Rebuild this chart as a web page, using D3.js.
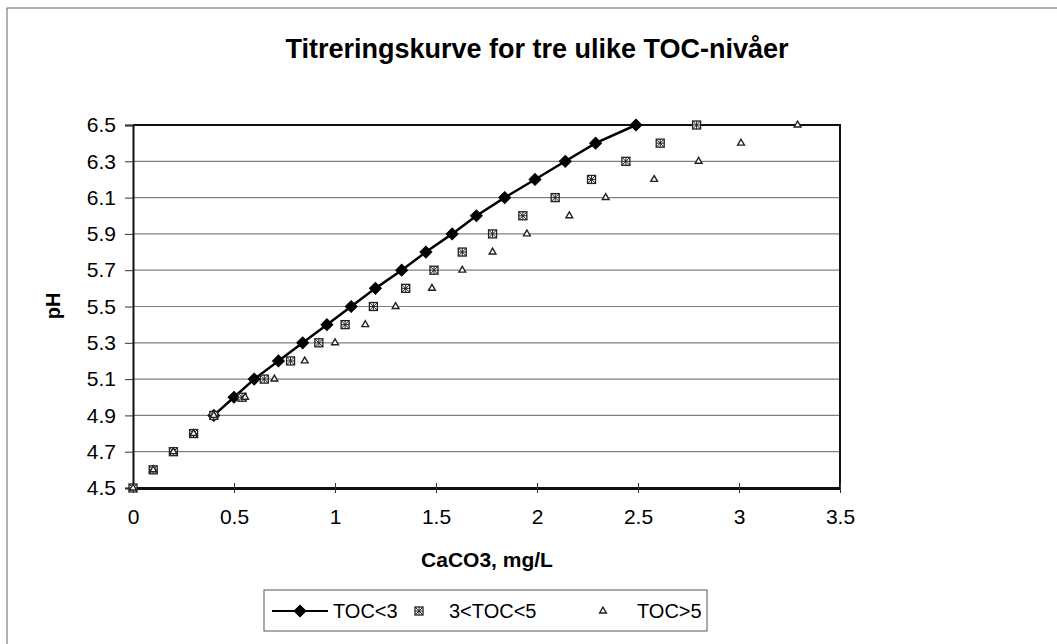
<!DOCTYPE html>
<html>
<head>
<meta charset="utf-8">
<script src="https://cdn.jsdelivr.net/npm/d3@7"></script>
<style>
  body { margin: 0; background: #fff; }
  text { font-family: "Liberation Sans", Arial, sans-serif; fill: #000; }
</style>
</head>
<body>
<div id="chart"></div>
<script>
// pH readings for each TOC group
var pH_toc3 = [4.9, 5.0, 5.1, 5.2, 5.3, 5.4, 5.5, 5.6, 5.7, 5.8, 5.9, 6.0, 6.1, 6.2, 6.3, 6.4, 6.5];
var caco3_toc3 = [0.40, 0.50, 0.60, 0.72, 0.84, 0.96, 1.08, 1.20, 1.33, 1.45, 1.58, 1.70, 1.84, 1.99, 2.14, 2.29, 2.49];

var pH_all = [4.5, 4.6, 4.7, 4.8, 4.9, 5.0, 5.1, 5.2, 5.3, 5.4, 5.5, 5.6, 5.7, 5.8, 5.9, 6.0, 6.1, 6.2, 6.3, 6.4, 6.5];
var caco3_toc35 = [0, 0.10, 0.20, 0.30, 0.40, 0.54, 0.65, 0.78, 0.92, 1.05, 1.19, 1.35, 1.49, 1.63, 1.78, 1.93, 2.09, 2.27, 2.44, 2.61, 2.79];
var caco3_toc5 = [0, 0.10, 0.20, 0.30, 0.40, 0.555, 0.70, 0.85, 1.00, 1.15, 1.30, 1.48, 1.63, 1.78, 1.95, 2.16, 2.34, 2.58, 2.80, 3.01, 3.29];

var xTicks = [0, 0.5, 1, 1.5, 2, 2.5, 3, 3.5];
var yTicks = [4.5, 4.7, 4.9, 5.1, 5.3, 5.5, 5.7, 5.9, 6.1, 6.3, 6.5];
var seriesNames = ['TOC<3', '3<TOC<5', 'TOC>5'];

var width = 1057, height = 644;
var plot = {left: 133, right: 840, top: 125, bottom: 488};

var x = d3.scaleLinear().domain([0, 3.5]).range([plot.left, plot.right]);
var y = d3.scaleLinear().domain([4.5, 6.5]).range([plot.bottom, plot.top]);

var svg = d3.select('#chart').append('svg')
  .attr('width', width)
  .attr('height', height);

// outer chart frame (runs off bottom/right of the scan)
svg.append('rect')
  .attr('x', 7).attr('y', 8)
  .attr('width', 1200).attr('height', 800)
  .attr('fill', 'none')
  .attr('stroke', '#666')
  .attr('stroke-width', 1);

svg.append('text')
  .attr('x', 537).attr('y', 58)
  .style('text-anchor', 'middle')
  .style('font-weight', 'bold')
  .style('font-size', '27px')
  .text('Titreringskurve for tre ulike TOC-nivåer');

// gridlines
svg.append('g')
  .selectAll('line')
  .data(yTicks.slice(1, -1))
  .enter().append('line')
  .attr('x1', plot.left).attr('x2', plot.right)
  .attr('y1', d => y(d)).attr('y2', d => y(d))
  .attr('stroke', '#808080')
  .attr('stroke-width', 1.2);

// plot border top + right
svg.append('path')
  .attr('d', `M${plot.left},${plot.top}H${plot.right}V${plot.bottom}`)
  .attr('fill', 'none')
  .attr('stroke', '#111')
  .attr('stroke-width', 2);

// axes
var yAxis = d3.axisLeft(y).tickValues(yTicks).tickSize(8).tickPadding(9)
  .tickFormat(d3.format('.1f'));
var gy = svg.append('g')
  .attr('transform', `translate(${plot.left},0)`)
  .call(yAxis);
gy.select('.domain').attr('stroke', '#111').attr('stroke-width', 2);
gy.selectAll('.tick line').attr('stroke', '#333');
gy.selectAll('.tick text').style('font-size', '21px').attr('font-family', null);

var xAxis = d3.axisBottom(x).tickValues(xTicks).tickSizeInner(5).tickSizeOuter(0).tickPadding(16)
  .tickFormat(d => d);
var gx = svg.append('g')
  .attr('transform', `translate(0,${plot.bottom})`)
  .call(xAxis);
gx.select('.domain').attr('stroke', '#111').attr('stroke-width', 3);
gx.selectAll('.tick line').attr('y1', -5).attr('stroke', '#333');
gx.selectAll('.tick text').style('font-size', '21px').attr('font-family', null);

svg.append('text')
  .attr('transform', 'translate(60,306) rotate(-90)')
  .style('text-anchor', 'middle')
  .style('font-weight', 'bold')
  .style('font-size', '20px')
  .text('pH');

svg.append('text')
  .attr('x', 487).attr('y', 567)
  .style('text-anchor', 'middle')
  .style('font-weight', 'bold')
  .style('font-size', '21px')
  .text('CaCO3, mg/L');

// marker helpers
var diamondPath = d3.symbol().type(d3.symbolSquare).size(70);
var trianglePath = d3.symbol().type(d3.symbolTriangle).size(20);

function drawDiamond(g) {
  g.append('path')
    .attr('d', diamondPath)
    .attr('transform', 'rotate(45)')
    .attr('fill', '#000')
    .attr('stroke', '#000');
}
function drawSquare(g) {
  g.append('rect')
    .attr('x', -4).attr('y', -4).attr('width', 8).attr('height', 8)
    .attr('fill', '#fff').attr('stroke', '#222').attr('stroke-width', 1.3);
  g.append('path')
    .attr('d', 'M-4,-4L4,4M4,-4L-4,4M0,-4V4M-4,0H4')
    .attr('stroke', '#222').attr('stroke-width', 1);
}
function drawTriangle(g) {
  g.append('path')
    .attr('d', trianglePath)
    .attr('fill', '#fff')
    .attr('stroke', '#222')
    .attr('stroke-width', 1.4);
}

// TOC<3 : line with diamonds
var s1 = pH_toc3.map((p, i) => ({x: caco3_toc3[i], y: p}));
svg.append('path')
  .datum(s1)
  .attr('d', d3.line().x(d => x(d.x)).y(d => y(d.y)))
  .attr('fill', 'none')
  .attr('stroke', '#000')
  .attr('stroke-width', 2.5);
svg.append('g').selectAll('g')
  .data(s1)
  .enter().append('g')
  .attr('transform', d => `translate(${x(d.x)},${y(d.y)})`)
  .each(function() { drawDiamond(d3.select(this)); });

// 3<TOC<5 : squares
var s2 = pH_all.map((p, i) => ({x: caco3_toc35[i], y: p}));
svg.append('g').selectAll('g')
  .data(s2)
  .enter().append('g')
  .attr('transform', d => `translate(${x(d.x)},${y(d.y)})`)
  .each(function() { drawSquare(d3.select(this)); });

// TOC>5 : small triangles
var s3 = pH_all.map((p, i) => ({x: caco3_toc5[i], y: p}));
svg.append('g').selectAll('g')
  .data(s3)
  .enter().append('g')
  .attr('transform', d => `translate(${x(d.x)},${y(d.y)})`)
  .each(function() { drawTriangle(d3.select(this)); });

// legend
var legend = svg.append('g');
legend.append('rect')
  .attr('x', 264).attr('y', 590)
  .attr('width', 443).attr('height', 41)
  .attr('fill', '#fff')
  .attr('stroke', '#555')
  .attr('stroke-width', 1);

var legendItems = [
  {name: seriesNames[0], mx: 300, tx: 333, draw: drawDiamond, line: true},
  {name: seriesNames[1], mx: 419, tx: 449, draw: drawSquare, line: false},
  {name: seriesNames[2], mx: 603, tx: 637, draw: drawTriangle, line: false}
];
var li = legend.selectAll('.item')
  .data(legendItems)
  .enter().append('g')
  .attr('class', 'item');
li.filter(d => d.line).append('line')
  .attr('x1', 272).attr('x2', 328)
  .attr('y1', 611).attr('y2', 611)
  .attr('stroke', '#000').attr('stroke-width', 2);
li.append('g')
  .attr('transform', d => `translate(${d.mx},611)`)
  .each(function(d) { d.draw(d3.select(this)); });
li.append('text')
  .attr('x', d => d.tx)
  .attr('y', 618)
  .style('font-size', '20px')
  .text(d => d.name);
</script>
</body>
</html>
